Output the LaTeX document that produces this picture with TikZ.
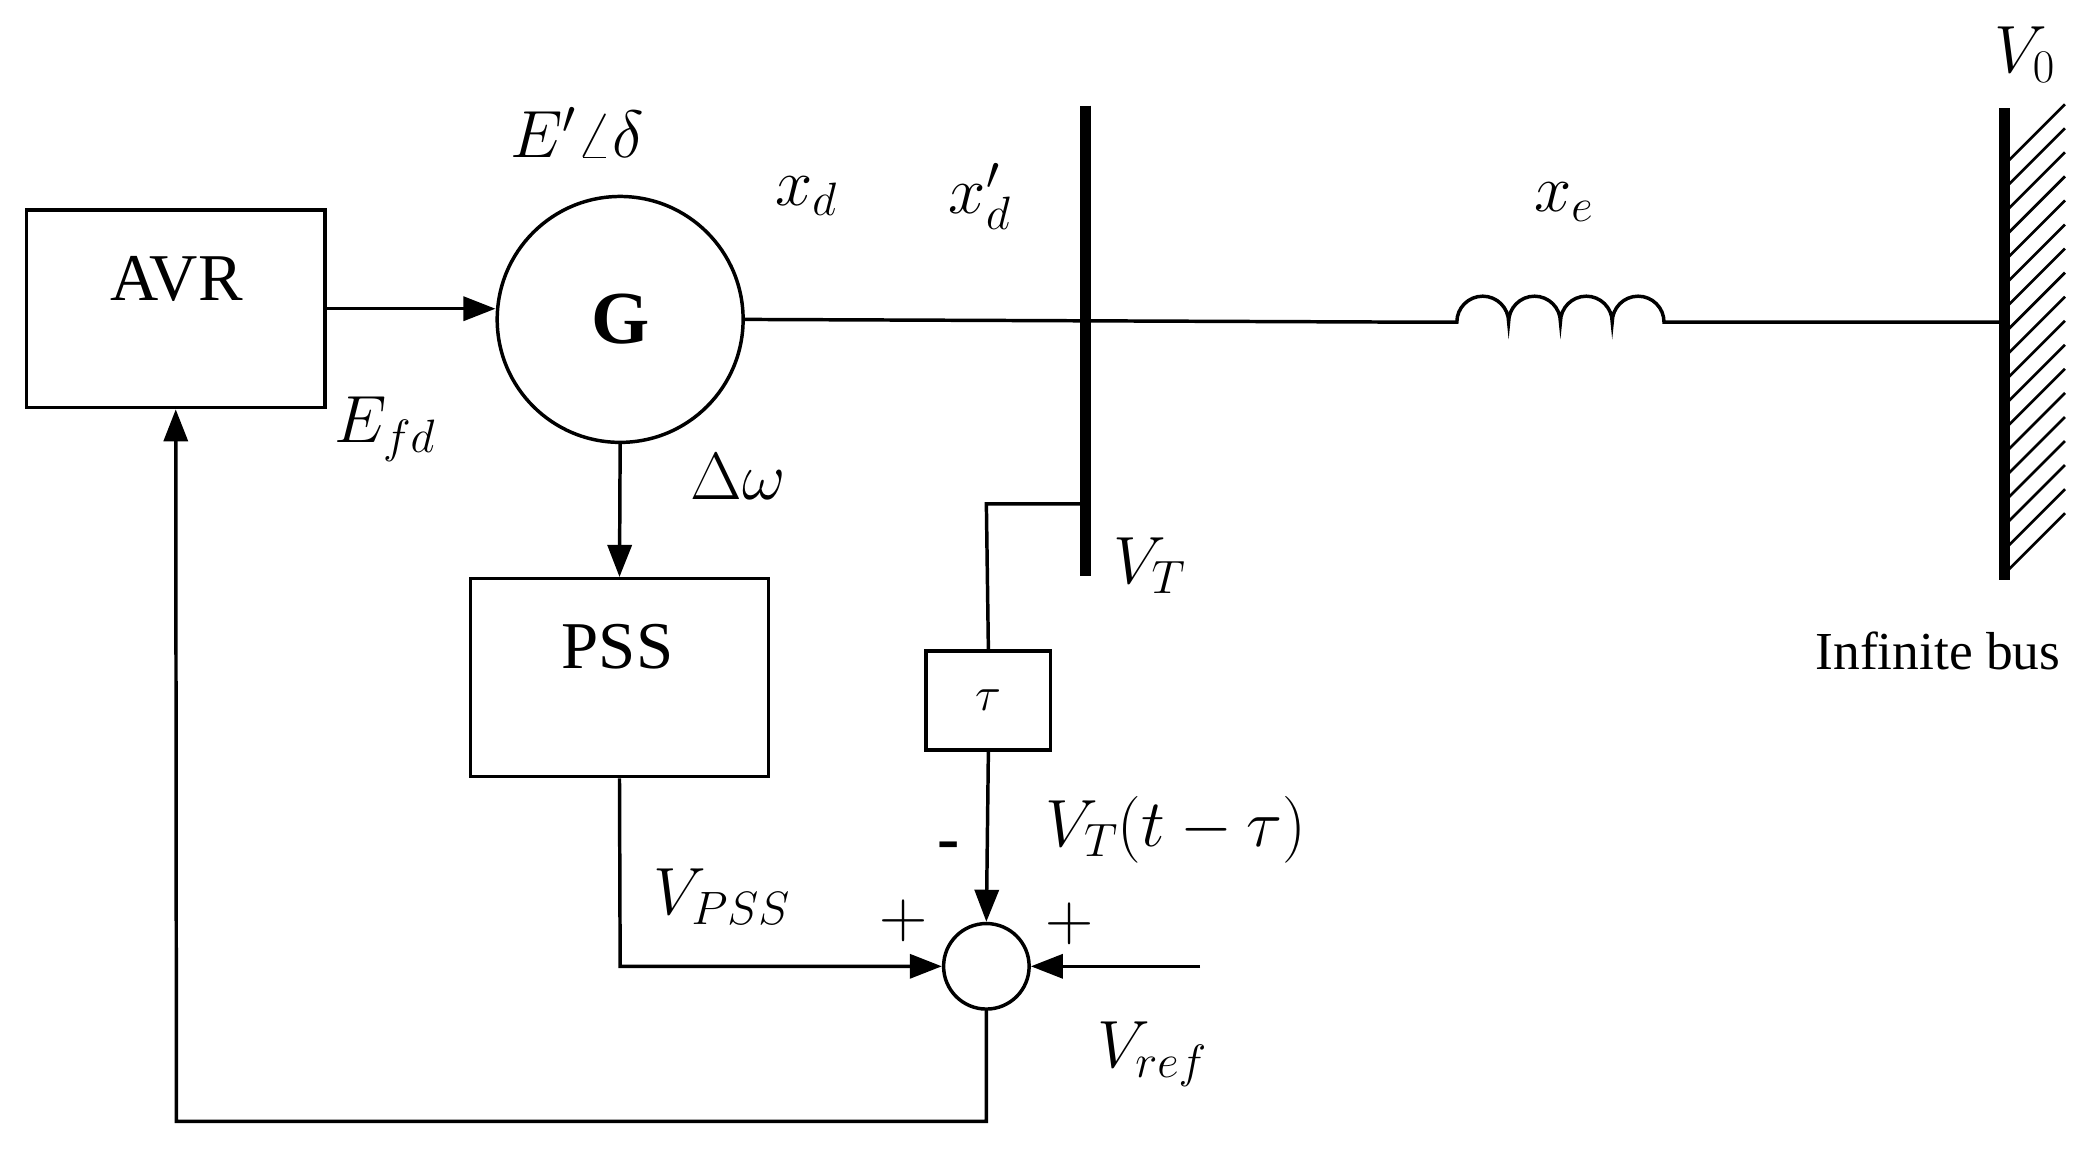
\RequirePackage{fix-cm}
\documentclass[tikz,border=0pt]{standalone}
\usepackage{fontspec}
\setmainfont{Liberation Serif}
\usetikzlibrary{arrows.meta}
\begin{document}
\begin{tikzpicture}[x=1pt,y=1pt,line width=2.6pt,
  arr/.style={-{Triangle[length=24pt,width=18pt]}},
  lab/.style={font=\fontsize{50}{60}\selectfont},
  blk/.style={draw,rectangle,inner sep=0pt}]
\useasboundingbox (0,0) rectangle (1560,869);
\node[blk,minimum width=223pt,minimum height=148pt] (avr) at (131.5,638) {};
\node[lab] at (132,660) {AVR};
\node[draw,circle,minimum size=184pt,inner sep=0pt,font=\fontsize{56}{64}\selectfont\bfseries] (g) at (464,630) {G};
\node[blk,minimum width=223pt,minimum height=148pt] (pss) at (463.5,362) {};
\node[lab] at (462,385) {PSS};
\node[blk,minimum width=93pt,minimum height=74pt,font=\fontsize{36}{40}\selectfont] (tau) at (739.5,345) {$\tau$};
\node[draw,circle,minimum size=64pt,inner sep=0pt] (sum) at (738,146) {};
\coordinate (bt) at (812,790); \coordinate (bb) at (812,438);
\draw[line width=8pt] (bt) -- (bb);
\coordinate (it) at (1500,788); \coordinate (ib) at (1500,435);
\draw[line width=8pt] (it) -- (ib);
\foreach \y in {440,458,...,760} \draw[line width=2pt] (1500,\y) -- (1545,\y+45);
\draw[arr] (243,638) -- (g.west |- 0,638);
\coordinate (l1) at (1090,628); \coordinate (l2) at (1245,628);
\draw (g.east) -- (1045,628) -- (l1)
  arc[start angle=180,end angle=0,radius=19.375]
  arc[start angle=180,end angle=0,radius=19.375]
  arc[start angle=180,end angle=0,radius=19.375]
  arc[start angle=180,end angle=0,radius=19.375] -- (1500,628);
\draw[arr] (g.south) -- (pss.north);
\coordinate (tap) at (812,492);
\draw (tap) -- (738,492) -- (tau.north);
\draw[arr] (tau.south) -- (sum.north);
\coordinate (c1) at (464,146);
\draw[arr] (pss.south) -- (c1) -- (sum.west);
\coordinate (vr) at (898,146);
\draw[arr] (vr) -- (sum.east);
\coordinate (c2) at (738,30); \coordinate (c3) at (132,30);
\draw[arr] (sum.south) -- (c2) -- (c3) -- (avr.south);
\node[lab] at (432,770) {$E'\angle\delta$};
\node[lab] at (603,722) {$x_d$};
\node[lab] at (733,722) {$x'_d$};
\node[lab] at (1170,718) {$x_e$};
\node[lab] at (1515,828) {$V_0$};
\node[font=\fontsize{40}{48}\selectfont] at (1450,382) {Infinite bus};
\node[lab] at (288,548) {$E_{fd}$};
\node[lab] at (552,512) {$\Delta\omega$};
\node[lab] at (860,446) {$V_T$};
\node[lab] at (710,232) {\textbf{-}};
\node[lab] at (880,248) {$V_T(t-\tau)$};
\node[lab] at (676,180) {$+$};
\node[lab] at (800,178) {$+$};
\node[lab] at (540,198) {$V_{PSS}$};
\node[lab] at (862,80) {$V_{ref}$};
\end{tikzpicture}
\end{document}
